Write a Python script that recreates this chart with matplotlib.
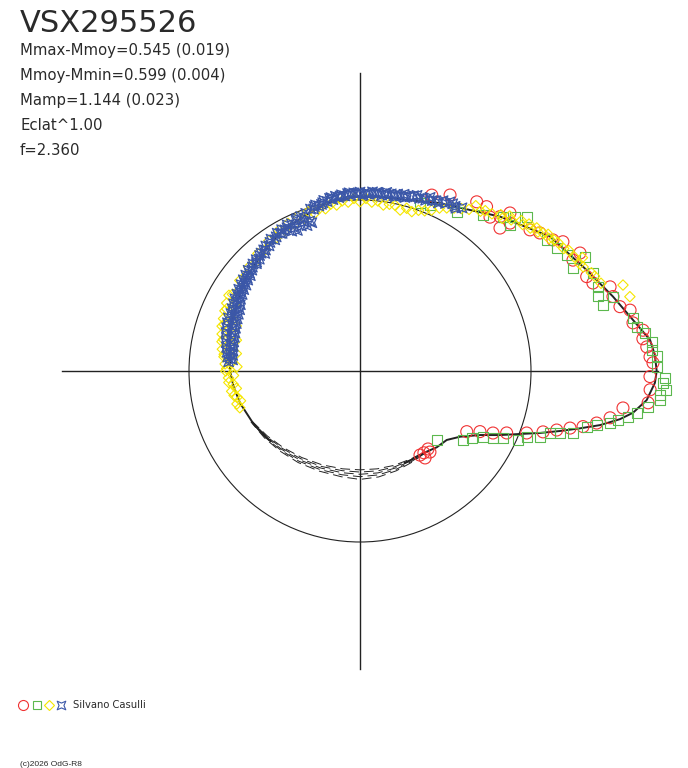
import numpy as np
import matplotlib
matplotlib.use("Agg")
import matplotlib.pyplot as plt
from matplotlib.path import Path
from matplotlib.patches import Circle

plt.rcParams['font.family'] = ['DejaVu Sans']

# ---------------- data ----------------
star_name = "VSX295526"
info_lines = ["Mmax-Mmoy=0.545 (0.019)", "Mmoy-Mmin=0.599 (0.004)",
              "Mamp=1.144 (0.023)", "Eclat^1.00", "f=2.360"]
observer = "Silvano Casulli"
copyright_txt = "(c)2026 OdG-R8"

# fitted curve (phase angle in degrees, relative brightness radius)
fit_deg = [-64, -60, -55, -50.4, -44.8, -38.5, -33.3, -28.1, -24.6, -21.5, -19, -16.7,
           -14.6, -12.7, -10.5, -8.7, -5.8, -2.3, 0, 3.1, 6.1, 10.6, 16.4, 24, 35.3,
           47.8, 55.7, 64.5, 74.7, 83.5, 92.3, 101.2, 110.3, 120.1, 129.4, 140.2,
           151.1, 162.5, 173.7, 180, 187, 195, 206, 212, 218]
fit_r = [0.597, 0.600, 0.604, 0.612, 0.633, 0.648, 0.700, 0.795, 0.900, 1.005, 1.113,
         1.221, 1.330, 1.439, 1.546, 1.615, 1.685, 1.726, 1.735, 1.727, 1.706, 1.624,
         1.542, 1.451, 1.361, 1.219, 1.140, 1.088, 1.037, 1.026, 1.020, 1.002, 0.962,
         0.933, 0.893, 0.862, 0.823, 0.797, 0.765, 0.760, 0.745, 0.726, 0.696, 0.680,
         0.665]

# alternative fits across the gap (no data there)
gap_deg = [205, 215, 225, 236, 248, 260, 270, 280, 290, 300, 308]
gap_r1 = [0.696, 0.662, 0.634, 0.610, 0.592, 0.581, 0.578, 0.581, 0.587, 0.594, 0.604]
gap_r2 = [0.698, 0.667, 0.641, 0.619, 0.602, 0.592, 0.591, 0.593, 0.596, 0.599, 0.606]
gap_r3 = [0.700, 0.672, 0.648, 0.628, 0.612, 0.604, 0.604, 0.605, 0.604, 0.604, 0.608]
gap_r4 = [0.702, 0.677, 0.655, 0.637, 0.622, 0.616, 0.618, 0.617, 0.613, 0.609, 0.610]
gap_r5 = [0.704, 0.682, 0.662, 0.646, 0.632, 0.628, 0.634, 0.629, 0.621, 0.614, 0.612]

red_deg = [67.8, 62.9, 55.4, 52.4, 49.8, 47.8, 46.5, 45.6, 44.6, 39.7, 37.5, 34.2, 32.5,
           28.2, 27.5, 22.6, 20.7, 18.6, 16.4, 13.9, 12.7, 10.0, 8.2, 6.5, 4.8, 2.8, 1.6,
           358.9, 356.3, 353.7, 352.0, 349.4, 347.6, 346.0, 344.8, 343.3, 341.6, 339.6,
           337.1, 335.0, 333.2, 330.4, 311.1, 310.8, 308.0, 306.8, 305.5]
red_r = [1.111, 1.156, 1.202, 1.213, 1.178, 1.219, 1.274, 1.170, 1.232, 1.292, 1.326,
         1.364, 1.407, 1.460, 1.404, 1.436, 1.456, 1.543, 1.542, 1.566, 1.619, 1.621,
         1.672, 1.665, 1.683, 1.698, 1.714, 1.696, 1.700, 1.695, 1.553, 1.488, 1.417,
         1.344, 1.273, 1.201, 1.128, 1.040, 0.931, 0.858, 0.786, 0.718, 0.605, 0.626,
         0.607, 0.635, 0.604]

green_deg = [70.3, 67.1, 58.7, 51.7, 47.2, 44.9, 42.8, 44.2, 35.1, 32.0, 29.3, 26.9, 25.7,
             22.8, 19.5, 17.5, 15.2, 16.4, 10.9, 9.1, 7.5, 5.7, 4.1, 2.8, 0.8, 358.6,
             357.7, 356.4, 355.4, 354.5, 352.9, 351.3, 350.3, 349.3, 348.2, 347.1, 346.2,
             343.7, 342.7, 341.8, 340.0, 338.5, 336.4, 334.8, 333.2, 332.0, 328.9, 326.3,
             318.0]
green_r = [1.043, 1.054, 1.090, 1.162, 1.230, 1.279, 1.328, 1.224, 1.334, 1.357, 1.386,
           1.476, 1.383, 1.478, 1.477, 1.459, 1.472, 1.542, 1.626, 1.639, 1.681, 1.715,
           1.710, 1.737, 1.735, 1.784, 1.773, 1.793, 1.760, 1.763, 1.699, 1.637, 1.592,
           1.537, 1.494, 1.420, 1.365, 1.299, 1.225, 1.169, 1.121, 1.048, 1.010, 0.926,
           0.873, 0.817, 0.763, 0.726, 0.603]

yellow_deg = [15.4, 18.1, 20, 22, 23, 25, 26, 27, 28, 30, 31, 33, 34, 35, 36, 37, 38, 39,
              40, 41, 42, 43, 45, 46, 47, 48, 50, 52, 53, 55, 56, 58, 60, 62, 64, 66, 68,
              70, 72, 74, 76, 78, 80, 82, 84, 86, 88, 90, 92, 94, 96, 98, 100, 102, 104,
              106, 108, 110, 112, 114, 116, 118, 120, 122, 125, 128, 131, 134, 137, 140,
              143, 146, 149, 152, 155, 158, 161, 164, 167, 170, 173, 176, 179, 182, 185,
              188, 191, 194, 197,
              150, 153, 156, 159, 162, 165, 168, 171, 174, 177, 180, 183, 186, 189, 192,
              195, 178, 172, 166, 160]
yellow_r = [1.637, 1.618, 1.50, 1.48, 1.47, 1.44, 1.43, 1.46, 1.42, 1.41,
            1.39, 1.38, 1.37, 1.35, 1.36, 1.34, 1.32, 1.33, 1.30, 1.31,
            1.28, 1.29, 1.25, 1.26, 1.22, 1.23, 1.20, 1.19, 1.17, 1.18,
            1.14, 1.12, 1.10, 1.08, 1.06, 1.03, 1.01, 1.00, 0.98, 0.99,
            0.97, 0.99, 0.99, 0.98, 1.00, 0.99, 1.01, 0.99, 1.01, 0.99,
            1.00, 0.98, 0.99, 0.97, 0.98, 0.96, 0.98, 0.95, 0.97, 0.94,
            0.96, 0.93, 0.95, 0.92, 0.93, 0.90, 0.91, 0.88, 0.89, 0.87,
            0.88, 0.85, 0.87, 0.83, 0.86, 0.80, 0.84, 0.78, 0.82, 0.76,
            0.80, 0.75, 0.78, 0.74, 0.77, 0.73, 0.75, 0.72, 0.735,
            0.885, 0.875, 0.865, 0.855, 0.848, 0.835, 0.825, 0.815, 0.800, 0.790,
            0.785, 0.770, 0.745, 0.760, 0.735, 0.745, 0.720, 0.730, 0.745, 0.770]

blue_deg = [58, 60, 61, 63, 64, 66, 67, 68, 70, 71, 72, 74, 75, 76, 77, 78, 79, 80, 81, 82,
            83, 84, 85, 86, 87, 88, 89, 90, 91, 92, 93, 94, 95, 96, 97, 98, 99, 100, 101,
            102, 103, 104, 105, 106, 107, 108, 109, 110, 111, 112, 113, 114, 115, 116, 117,
            118, 119, 120, 122, 123, 124, 126, 127, 128, 129, 130, 132, 133, 134, 135, 137,
            138, 139, 140, 141, 142, 143, 144, 145, 146, 147, 148, 149, 150, 151, 152, 153,
            154, 155, 156, 157, 158, 159, 160, 161, 162, 163, 164, 165, 166, 167, 168, 169,
            170, 171, 172, 173, 174, 175, 176,
            59.5, 62, 65, 69, 73, 75.5, 78.5, 81.5, 84.5, 87.5, 90.5, 93.5, 96.5, 99.5,
            102.5, 105.5, 108.5, 110.5, 112.5, 114.5, 116.5, 119.5, 121, 125, 128.5, 131,
            133.5, 136, 138.5, 140.5, 142.5, 144.5, 146.5, 148.5, 150.5, 152.5, 154.5,
            156.5, 158.5, 160.5, 162.5, 164.5, 166.5, 168.5, 170.5, 172.5, 174.5]
blue_r = [1.125, 1.112, 1.118, 1.100, 1.108, 1.090, 1.083, 1.095,
          1.075, 1.068, 1.080,
          1.060, 1.055, 1.065, 1.050, 1.058, 1.044, 1.052, 1.040, 1.048, 1.036,
          1.045, 1.040, 1.050, 1.035, 1.043, 1.030, 1.046, 1.038, 1.042, 1.030,
          1.040, 1.028, 1.036, 1.022, 1.032, 1.015, 1.025, 1.010, 1.020, 1.000,
          0.995, 1.005, 0.985, 0.990, 0.912, 0.975, 0.905, 0.968, 0.915, 0.958,
          0.900, 0.950, 0.910, 0.940, 0.935, 0.945, 0.930,
          0.925, 0.915, 0.930,
          0.905, 0.915, 0.898, 0.885, 0.900,
          0.880, 0.890, 0.872, 0.885,
          0.865, 0.880, 0.850, 0.872, 0.845, 0.866, 0.835, 0.860, 0.830, 0.855,
          0.822, 0.848, 0.815, 0.845, 0.800, 0.838, 0.790, 0.832, 0.785, 0.826,
          0.780, 0.830, 0.775, 0.825, 0.770, 0.820, 0.765, 0.815, 0.760, 0.805,
          0.758, 0.800, 0.755, 0.792, 0.752, 0.785, 0.750, 0.778, 0.748, 0.770,
          1.105, 1.120, 1.085, 1.070, 1.072, 1.048, 1.040, 1.056, 1.050, 1.036,
          1.040, 1.044, 1.030, 1.028, 1.008, 0.998, 0.925, 0.930, 0.965, 0.920,
          0.955, 0.925, 0.940, 0.918, 0.905, 0.895, 0.878, 0.875, 0.862, 0.855,
          0.850, 0.842, 0.838, 0.832, 0.825, 0.812, 0.808, 0.800, 0.795, 0.790,
          0.785, 0.780, 0.775, 0.772, 0.770, 0.765, 0.760]

# ---------------- figure ----------------
W, H = 688, 768
CX, CY, S = 360, 371, 171.0
AX_EXT = 1.745

fig = plt.figure(figsize=(W / 100, H / 100), dpi=100)
ax = fig.add_axes([0, 0, 1, 1])
ax.set_xlim(-CX / S, (W - CX) / S)
ax.set_ylim(-(H - CY) / S, CY / S)
ax.axis('off')


def to_xy(deg, r):
    a = np.deg2rad(np.asarray(deg, dtype=float))
    r = np.asarray(r, dtype=float)
    return r * np.cos(a), r * np.sin(a)


ink = '#222222'
ax.plot([-AX_EXT, AX_EXT], [0, 0], color=ink, lw=1.0, zorder=1)
ax.plot([0, 0], [-AX_EXT, AX_EXT], color=ink, lw=1.0, zorder=1)
ax.add_patch(Circle((0, 0), 1.0, fill=False, ec=ink, lw=0.8, zorder=1))

# star marker (4 points on diagonals)
sv = []
for k in range(4):
    a_out = np.deg2rad(45 + 90 * k)
    a_in = np.deg2rad(90 + 90 * k)
    sv.append((np.cos(a_out), np.sin(a_out)))
    sv.append((0.40 * np.cos(a_in), 0.40 * np.sin(a_in)))
sv.append(sv[0])
star_marker = Path(sv, [Path.MOVETO] + [Path.LINETO] * 7 + [Path.CLOSEPOLY])

c_red, c_green, c_yel, c_blue = '#f03232', '#5cb84e', '#f5e600', '#3b57a8'

# fit curve (below the open markers)
x, y = to_xy(fit_deg, fit_r)
ax.plot(x, y, color=ink, lw=1.4, zorder=2)
for k, gr in enumerate((gap_r1, gap_r2, gap_r3, gap_r4, gap_r5)):
    x, y = to_xy(gap_deg, gr)
    ax.plot(x, y, color=ink, lw=0.7, ls=((k * 4.3) % 15, (10, 5)), zorder=2)

x, y = to_xy(red_deg, red_r)
ax.scatter(x, y, s=74, marker='o', facecolors='none', edgecolors=c_red, linewidths=0.8, zorder=3)
x, y = to_xy(green_deg, green_r)
ax.scatter(x, y, s=52, marker='s', facecolors='none', edgecolors=c_green, linewidths=0.8, zorder=4)
x, y = to_xy(yellow_deg, yellow_r)
ax.scatter(x, y, s=28, marker='D', facecolors='none', edgecolors=c_yel, linewidths=0.8, zorder=5)
x, y = to_xy(blue_deg, blue_r)
ax.scatter(x, y, s=48, marker=star_marker, facecolors='none', edgecolors=c_blue, linewidths=0.9, zorder=6)

# texts
tc = '#2a2a2a'
fig.text(20 / W, 1 - 32 / H, star_name, fontsize=22, color=tc, va='baseline', ha='left')
for i, line in enumerate(info_lines):
    fig.text(20 / W, 1 - (55 + 25 * i) / H, line, fontsize=10.7, color=tc, va='baseline', ha='left')

# legend row
leg_y = 1 - 705 / H
fig.text(73 / W, 1 - 708.5 / H, observer, fontsize=7.2, color=tc, va='baseline', ha='left')
for px, mk, col, sz in ((23, 'o', c_red, 7.2), (36.7, 's', c_green, 6.0),
                        (48.5, 'D', c_yel, 4.6), (60.7, star_marker, c_blue, 6.2)):
    fig.lines.append(plt.Line2D([px / W], [leg_y], marker=mk, markersize=sz, markerfacecolor='none',
                                markeredgecolor=col, markeredgewidth=0.8, linestyle='none',
                                transform=fig.transFigure, figure=fig))
fig.text(20 / W, 1 - 766 / H, copyright_txt, fontsize=6.0, color=tc, va='baseline', ha='left',
         family=['Liberation Sans', 'DejaVu Sans'])

fig.savefig('out.png', dpi=100, facecolor='white')
